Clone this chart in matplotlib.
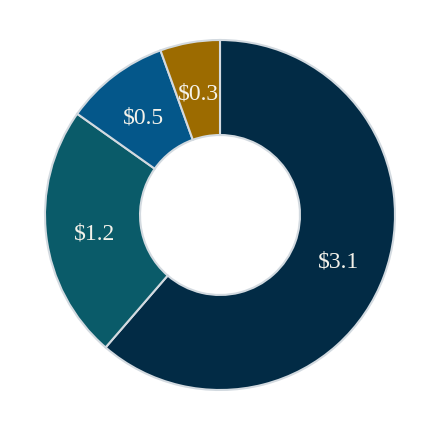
import numpy as np
import matplotlib.pyplot as plt

# values in $ (labels are rounded to one decimal)
values = [3.11, 1.19, 0.49, 0.28]
colors = ["#022B45", "#0A5B69", "#04578A", "#9C6B00"]

plt.rcParams['font.family'] = ['Liberation Serif', 'DejaVu Serif']

fig = plt.figure(figsize=(4.4, 4.3), dpi=100)
ax = fig.add_axes([45 / 440, 40 / 430, 350 / 440, 350 / 430])

wedges, _ = ax.pie(values, colors=colors, startangle=90, counterclock=False,
                   radius=1.0,
                   wedgeprops=dict(width=0.543, edgecolor='#D3DAE0', linewidth=1.5))

# value labels sit in the middle of the ring
total = sum(values)
start = 90.0
for v in values:
    span = 360.0 * v / total
    mid = np.deg2rad(start - span / 2)
    r = 0.72
    ax.text(r * np.cos(mid), r * np.sin(mid) - 0.02, rf"\${v:.1f}",
            ha='center', va='center', color='#F4F2EA', fontsize=17)
    start -= span

ax.set_xlim(-1, 1)
ax.set_ylim(-1, 1)
ax.set_aspect('equal')
ax.axis('off')

fig.savefig('out.png', dpi=100)
